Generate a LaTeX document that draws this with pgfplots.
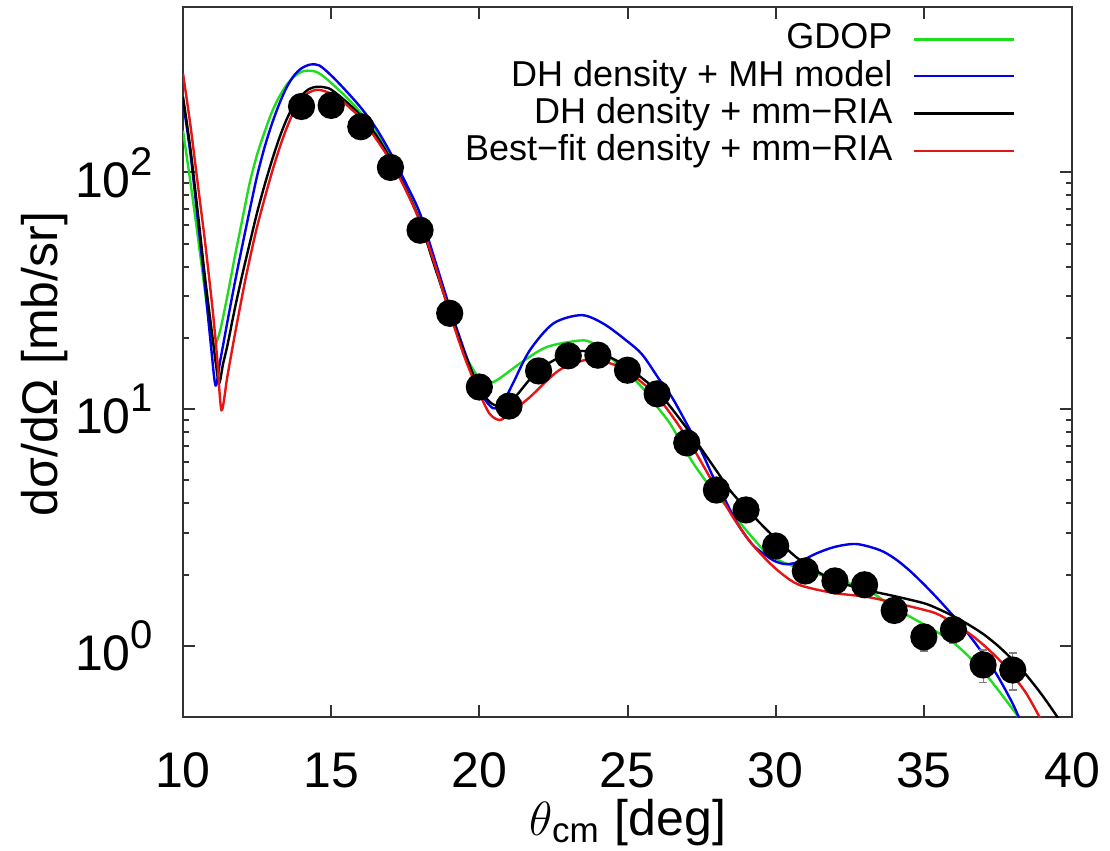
\documentclass[border=0pt]{standalone}
\usepackage{pgfplots}
\usepackage{pgfplotstable}
\pgfplotsset{compat=1.18}
\usepackage{fontspec}
\setmainfont{Liberation Sans}
\definecolor{cgreen}{RGB}{30,220,30}
\definecolor{cblue}{RGB}{0,0,235}
\definecolor{cred}{RGB}{230,20,20}
\newcommand{\tenpow}[1]{10\raisebox{5.5pt}{\fontsize{10}{10}\selectfont #1}}
% curves: theta [deg], log10 of dsigma/dOmega
\pgfplotstableread{
x ly
10 2.176
10.25 1.96
10.5 1.73
10.75 1.49
10.95 1.31
11.07 1.27
11.25 1.33
11.5 1.48
11.75 1.645
12.0 1.80
12.25 1.955
12.5 2.075
12.75 2.17
13.0 2.255
13.25 2.32
13.5 2.37
13.75 2.405
14.0 2.425
14.2 2.43
14.5 2.425
14.75 2.405
15.0 2.378
15.5 2.32
16 2.252
16.5 2.17
17 2.064
17.5 1.94
18 1.80
18.5 1.605
19 1.41
19.5 1.235
20 1.13
20.4 1.112
20.8 1.14
21.37 1.193
22.27 1.262
23.4 1.29
23.83 1.279
24.3 1.235
24.74 1.18
25.2 1.13
25.64 1.07
26.0 1.01
26.43 0.94
26.8 0.86
27.2 0.775
27.65 0.695
28.1 0.625
28.8 0.519
29.3 0.445
29.69 0.393
30.3 0.35
31 0.322
32 0.279
33 0.243
34 0.161
35 0.09
36 0.013
37 -0.108
38 -0.268
38.4 -0.34
}\gdop
\pgfplotstableread{
x ly
10 2.30
10.25 2.08
10.5 1.80
10.75 1.51
10.95 1.26
11.1 1.10
11.25 1.20
11.5 1.37
11.75 1.535
12.0 1.69
12.25 1.84
12.5 1.985
12.75 2.105
13.0 2.205
13.25 2.29
13.5 2.36
13.75 2.41
14.0 2.44
14.3 2.456
14.6 2.452
15.0 2.41
15.5 2.345
16 2.274
16.5 2.19
17 2.083
17.5 1.96
18 1.826
18.5 1.63
19 1.43
19.5 1.245
20 1.08
20.46 1.004
20.8 1.03
21.14 1.11
21.7 1.248
22.5 1.362
23.45 1.397
24.2 1.36
24.96 1.29
25.5 1.23
26.09 1.122
26.5 1.05
26.99 0.94
27.5 0.82
27.88 0.716
28.3 0.615
28.67 0.525
29.2 0.43
29.69 0.38
30.0 0.356
30.36 0.345
30.8 0.355
31.37 0.39
32.0 0.418
32.72 0.43
33.5 0.405
34.0 0.37
34.5 0.32
35.0 0.26
35.5 0.195
36.0 0.125
36.5 0.05
37.0 -0.035
37.5 -0.13
38.0 -0.245
38.3 -0.33
}\dhmh
\pgfplotstableread{
x ly
10 2.32
10.25 2.10
10.5 1.83
10.75 1.55
11.0 1.30
11.1 1.20
11.22 1.11
11.35 1.19
11.5 1.27
11.75 1.425
12.0 1.567
12.25 1.70
12.5 1.83
12.75 1.945
13.0 2.05
13.25 2.145
13.5 2.225
13.75 2.285
14.0 2.325
14.25 2.352
14.5 2.362
14.75 2.36
15.0 2.35
15.5 2.30
16 2.24
16.5 2.16
17 2.057
17.5 1.935
18 1.792
18.5 1.60
19 1.415
19.5 1.235
20 1.09
20.4 1.025
20.8 1.013
21.2 1.05
22 1.165
23 1.236
23.6 1.245
24.3 1.225
25 1.176
26 1.076
27 0.919
28 0.74
28.55 0.643
29.69 0.491
30.8 0.364
31.92 0.279
33.06 0.236
34.0 0.21
35.0 0.18
35.5 0.155
36.0 0.125
36.5 0.09
37.0 0.05
37.5 0.0
38.0 -0.06
38.5 -0.13
39.0 -0.21
39.5 -0.30
39.8 -0.36
}\dhria
\pgfplotstableread{
x ly
10 2.418
10.25 2.20
10.5 1.95
10.75 1.70
11.0 1.42
11.15 1.22
11.3 0.996
11.5 1.14
11.75 1.315
12.0 1.48
12.15 1.574
12.5 1.77
13.0 2.0
13.4 2.155
13.78 2.268
14.1 2.325
14.5 2.349
14.9 2.338
15.3 2.31
15.7 2.265
16 2.23
16.5 2.145
17 2.049
17.5 1.93
18 1.792
18.5 1.61
19 1.407
19.5 1.22
20 1.068
20.35 0.98
20.69 0.954
21.0 0.98
21.7 1.05
22.7 1.165
23.7 1.21
24.5 1.19
25 1.16
26 1.053
27 0.88
28 0.663
28.55 0.545
29.1 0.445
29.69 0.363
30.2 0.305
30.8 0.257
31.92 0.224
33.06 0.207
34 0.182
35 0.152
35.53 0.13
36.43 0.061
37.0 0.005
37.55 -0.06
38.0 -0.125
38.45 -0.2
38.9 -0.3
39.1 -0.35
}\bfria
\begin{document}
\begin{tikzpicture}
\begin{axis}[
  scale only axis, width=222.25pt, height=177.5pt,
  xmin=10, xmax=40, ymin=0.5, ymax=500, ymode=log,
  xtick={10,15,...,40}, ytick={1,10,100},
  yticklabels={\tenpow{0},\tenpow{1},\tenpow{2}},
  /pgf/number format/assume math mode=true,
  tick label style={font=\fontsize{12.5}{14}\selectfont},
  label style={font=\fontsize{12.5}{14}\selectfont},
  xticklabel style={anchor=base, yshift=-17.5pt},
  yticklabel style={xshift=-4pt},
  major tick length=3pt, minor tick length=1.5pt,
  axis line style={line width=0.6pt, black!80},
  every tick/.style={black!80, line width=0.5pt},
  xlabel={$\theta$\textsubscript{cm} [deg]},
  ylabel={dσ/dΩ [mb/sr]},
  xlabel style={at={(axis description cs:0.5,0)}, anchor=base, yshift=-29.5pt},
  ylabel style={at={(axis description cs:-0.156,0.497)}, anchor=center},
  legend plot pos=right,
  legend cell align=right,
  legend image code/.code={\draw[#1] (0pt,0pt) -- (25pt,0pt);},
  legend style={draw=none, fill=none, font=\fontsize{9}{10}\selectfont,
    at={(axis description cs:0.95,1.0)}, anchor=north east,
    row sep=-2.7pt, column sep=3pt},
  every axis plot/.append style={line width=0.6pt},
]
\addplot[cgreen, smooth, tension=0.5] table[x=x, y expr=10^\thisrow{ly}] {\gdop};
\addplot[cblue, smooth, tension=0.5] table[x=x, y expr=10^\thisrow{ly}] {\dhmh};
\addplot[black, smooth, tension=0.5] table[x=x, y expr=10^\thisrow{ly}] {\dhria};
\addplot[cred, smooth, tension=0.5] table[x=x, y expr=10^\thisrow{ly}] {\bfria};
% data
\addplot[forget plot, only marks, mark=*, mark size=3.1pt, black,
  error bars/.cd, y dir=both, y explicit,
  error bar style={line width=0.3pt, black!50}, error mark options={rotate=90, mark size=1pt, black!50}]
  coordinates {
(14,190) +- (0,5) (15,192) +- (0,5) (16,156) +- (0,4) (17,105) +- (0,3)
(18,57) +- (0,2) (19,25.4) +- (0,1) (20,12.4) +- (0,0.5) (21,10.3) +- (0,0.4)
(22,14.5) +- (0,0.5) (23,16.8) +- (0,0.6) (24,16.9) +- (0,0.6) (25,14.6) +- (0,0.5)
(26,11.6) +- (0,0.4) (27,7.2) +- (0,0.3) (28,4.55) +- (0,0.2) (29,3.75) +- (0,0.15)
(30,2.64) +- (0,0.12) (31,2.07) +- (0,0.1) (32,1.88) +- (0,0.1) (33,1.81) +- (0,0.1)
(34,1.41) +- (0,0.1) (35,1.09) +- (0,0.14) (36,1.17) +- (0,0.14)
(37,0.83) +- (0,0.13) (38,0.79) +- (0,0.14)};
\legend{GDOP, DH density + MH model, DH density + mm\textminus RIA, Best\textminus fit density + mm\textminus RIA}
\end{axis}
\pgfresetboundingbox
\path (-45.75pt,-33.25pt) rectangle (231.75pt,179.25pt);
\end{tikzpicture}
\end{document}
